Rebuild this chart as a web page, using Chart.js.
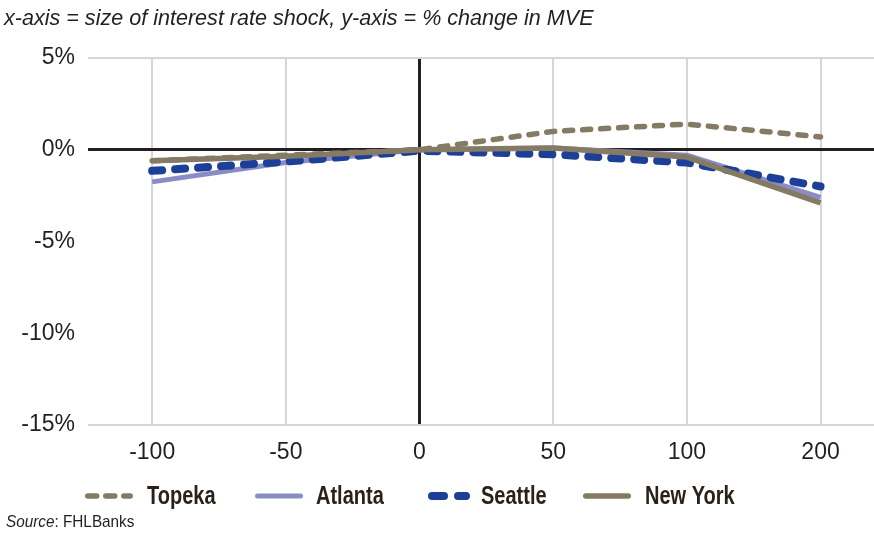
<!DOCTYPE html>
<html>
<head>
<meta charset="utf-8">
<script src="https://cdn.jsdelivr.net/npm/chart.js@4.4.1/dist/chart.umd.min.js"></script>
<style>
  html, body { margin: 0; padding: 0; background: #fff; }
  canvas { display: block; }
</style>
</head>
<body>
<canvas id="chart" width="874" height="533"></canvas>
<script>
// size of interest rate shock (bp)
const shocks = ["-100", "-50", "0", "50", "100", "200"]
const yTicks = [5, 0, -5, -10, -15]

// % change in MVE
const topeka  = [-0.6, -0.3, 0, 1.0, 1.4, 0.7]
const atlanta = [-1.75, -0.7, 0, 0.1, -0.3, -2.6]
const seattle = [-1.15, -0.65, -0.05, -0.25, -0.7, -2.0]
const newYork = [-0.6, -0.35, 0, 0.1, -0.4, -2.9]

const TAN = "#857a64"
const LILAC = "#8a8cc6"
const NAVY = "#1c3f97"
const INK = "#2a2218"

const points = (values) => values.map((v, i) => ({ x: i, y: v }))

const series = [
  { label: "Topeka", data: topeka, color: TAN, width: 5.5, dash: [8, 10], order: 1 },
  { label: "Atlanta", data: atlanta, color: LILAC, width: 5, dash: [], order: 3 },
  { label: "Seattle", data: seattle, color: NAVY, width: 8, dash: [10, 13], order: 2 },
  { label: "New York", data: newYork, color: TAN, width: 5.5, dash: [], order: 0 }
]

// no narrow font installed, so squeeze the regular one horizontally
function condensedText(ctx, text, x, y, squeeze) {
  ctx.save()
  ctx.translate(x, y)
  ctx.scale(squeeze, 1)
  ctx.fillText(text, 0, 0)
  const w = ctx.measureText(text).width * squeeze
  ctx.restore()
  return w
}

// title on top, legend + source below the axis
const decorations = {
  id: "decorations",
  afterDraw(chart) {
    const { ctx } = chart
    ctx.save()
    ctx.fillStyle = "#231f20"
    ctx.textBaseline = "middle"
    ctx.font = "italic 22px 'Liberation Sans', Arial, sans-serif"
    condensedText(ctx, "x-axis = size of interest rate shock, y-axis = % change in MVE", 4, 19, 0.98)

    const swatchX = [85, 255, 428, 583]
    const textX = [147, 316, 481, 645]
    const y = 496
    series.forEach((s, i) => {
      const x = swatchX[i]
      ctx.beginPath()
      ctx.strokeStyle = s.color
      ctx.lineWidth = s.width
      ctx.lineCap = "round"
      ctx.setLineDash(s.dash.length ? (s.width > 6 ? [12, 14] : [9, 9]) : [])
      ctx.moveTo(x + s.width / 2, y)
      ctx.lineTo(x + (s.width > 6 ? 42 : 48) - s.width / 2, y)
      ctx.stroke()
      ctx.setLineDash([])
      ctx.fillStyle = INK
      ctx.font = "bold 26px 'Liberation Sans', Arial, sans-serif"
      condensedText(ctx, s.label, textX[i], y + 1, 0.77)
    })

    ctx.fillStyle = "#231f20"
    ctx.font = "italic 17px 'Liberation Sans', Arial, sans-serif"
    const w = condensedText(ctx, "Source", 6, 522, 0.9)
    ctx.font = "17px 'Liberation Sans', Arial, sans-serif"
    condensedText(ctx, ": FHLBanks", 6 + w, 522, 0.9)
    ctx.restore()
  }
}

new Chart(document.getElementById("chart"), {
  type: "line",
  data: {
    datasets: series.map((s) => ({
      label: s.label,
      data: points(s.data),
      borderColor: s.color,
      borderWidth: s.width,
      borderDash: s.dash,
      borderCapStyle: s.dash.length ? "round" : "butt",
      borderJoinStyle: "round",
      pointRadius: 0,
      tension: 0,
      fill: false,
      order: s.order
    }))
  },
  options: {
    responsive: false,
    animation: false,
    layout: { padding: { top: 58, bottom: 68, left: 0, right: 0 } },
    plugins: { legend: { display: false }, tooltip: { enabled: false } },
    scales: {
      x: {
        type: "linear",
        min: -0.48,
        max: 5.40,
        afterBuildTicks: (scale) => { scale.ticks = shocks.map((_, i) => ({ value: i })) },
        afterFit: (scale) => { scale.height = 40 },
        border: { display: false },
        grid: {
          drawTicks: false,
          color: (c) => c.tick && c.tick.value === 2 ? "#231f20" : "#d6d6d6",
          lineWidth: (c) => c.tick && c.tick.value === 2 ? 3 : 2
        },
        ticks: {
          padding: 14,
          color: "#231f20",
          font: { family: "'Liberation Sans', Arial, sans-serif", size: 23 },
          callback: (v) => shocks[v]
        }
      },
      y: {
        min: -15,
        max: 5,
        afterBuildTicks: (scale) => { scale.ticks = yTicks.map((v) => ({ value: v })) },
        afterFit: (scale) => { scale.width = 88 },
        border: { display: false },
        grid: {
          drawTicks: false,
          color: (c) => {
            const v = c.tick && c.tick.value
            if (v === 0) return "#231f20"
            if (v === 5 || v === -15) return "#d6d6d6"
            return "rgba(0,0,0,0)"
          },
          lineWidth: (c) => c.tick && c.tick.value === 0 ? 3 : 2
        },
        ticks: {
          padding: 13,
          color: "#231f20",
          font: { family: "'Liberation Sans', Arial, sans-serif", size: 23 },
          callback: (v) => v + "%"
        }
      }
    }
  },
  plugins: [decorations]
})
</script>
</body>
</html>
